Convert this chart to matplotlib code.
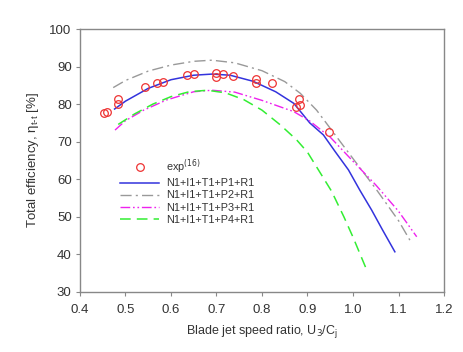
import matplotlib
matplotlib.use("Agg")
import matplotlib.pyplot as plt

plt.rcParams['font.family'] = ['Liberation Sans', 'DejaVu Sans']

# experimental points
exp_x = [0.4535, 0.4586, 0.484, 0.484, 0.5429, 0.570, 0.5817, 0.6344, 0.6505, 0.698,
         0.699, 0.715, 0.7355, 0.7868, 0.7868, 0.8212, 0.874, 0.882, 0.8835, 0.948]
exp_y = [77.55, 77.9, 81.37, 79.95, 84.47, 85.54, 85.89, 87.67, 87.93, 88.29,
         87.22, 88.02, 87.49, 86.69, 85.54, 85.63, 79.33, 81.28, 79.86, 72.67]

# N1+I1+T1+P1+R1
p1_x = [0.476, 0.5, 0.55, 0.6, 0.65, 0.69, 0.73, 0.78, 0.83, 0.87, 0.905, 0.935,
        0.96, 0.99, 1.015, 1.041, 1.065, 1.092]
p1_y = [78.7, 80.8, 84.2, 86.5, 87.7, 88.0, 87.7, 86.1, 83.3, 80.2, 75.0, 71.8,
        67.5, 62.5, 57.1, 51.8, 46.5, 40.7]

# N1+I1+T1+P2+R1
p2_x = [0.473, 0.5, 0.55, 0.6, 0.65, 0.69, 0.74, 0.8, 0.85, 0.884, 0.92, 0.964,
        1.0, 1.05, 1.1, 1.125]
p2_y = [84.4, 86.3, 88.8, 90.4, 91.4, 91.7, 91.0, 88.9, 86.0, 82.9, 78.4, 71.3,
        65.5, 57.5, 49.0, 43.8]

# N1+I1+T1+P3+R1
p3_x = [0.477, 0.5, 0.54, 0.59, 0.65, 0.69, 0.74, 0.8, 0.87, 0.905, 0.95, 1.0,
        1.05, 1.1, 1.14]
p3_y = [73.1, 75.6, 78.4, 81.1, 83.3, 83.7, 83.2, 81.0, 78.0, 75.5, 71.2, 64.8,
        58.5, 51.5, 44.7]

# N1+I1+T1+P4+R1
p4_x = [0.484, 0.52, 0.56, 0.6, 0.64, 0.68, 0.72, 0.76, 0.8, 0.84, 0.876, 0.9,
        0.924, 0.953, 0.98, 1.0, 1.03]
p4_y = [74.6, 77.4, 80.0, 82.0, 83.3, 83.7, 83.0, 81.2, 78.4, 74.5, 70.5, 67.2,
        62.5, 56.8, 50.0, 44.6, 35.9]

fig = plt.figure(figsize=(4.64, 3.52), dpi=100)
ax = fig.add_axes([0.1724, 0.1705, 0.7845, 0.7471])

ax.plot(exp_x, exp_y, 'o', mfc='none', mec='#ee3333', ms=5.5, mew=0.9, ls='none',
        label='exp$^{(16)}$', zorder=5)
ax.plot(p1_x, p1_y, color='#3333dd', lw=1.1, label='N1+I1+T1+P1+R1')
ax.plot(p2_x, p2_y, color='#999999', lw=1.0, dashes=(8, 3, 1.5, 3), label='N1+I1+T1+P2+R1')
ax.plot(p3_x, p3_y, color='#ee22ee', lw=1.0, dashes=(7, 2, 1.2, 2, 1.2, 2), label='N1+I1+T1+P3+R1')
ax.plot(p4_x, p4_y, color='#33ee33', lw=1.1, dashes=(7, 4), label='N1+I1+T1+P4+R1')

ax.set_xlim(0.4, 1.2)
ax.set_ylim(30, 100)
ax.set_xticks([0.4, 0.5, 0.6, 0.7, 0.8, 0.9, 1.0, 1.1, 1.2])
ax.set_xticklabels(['0.4', '0.5', '0.6', '0.7', '0.8', '0.9', '1.0', '1.1', '1.2'])
ax.set_yticks(range(30, 101, 10))

for s in ax.spines.values():
    s.set_color('#888888')
    s.set_linewidth(1.0)
ax.tick_params(direction='out', length=3, width=0.8, color='#888888',
               labelsize=9.5, labelcolor='#333333')
ax.tick_params(axis='x', pad=6)
ax.tick_params(axis='y', pad=3)

ax.set_xlabel('Blade jet speed ratio, U$_3$/C$_\\mathregular{j}$', fontsize=9,
              color='#333333', labelpad=5)
ax.set_ylabel('Total efficiency, $\\mathregular{\\eta_{t\\text{-}t}}$ [%]', fontsize=9.5,
              color='#333333', labelpad=6)

leg = ax.legend(loc='upper left', bbox_to_anchor=(0.09, 0.54), frameon=False,
                fontsize=7.8, handlelength=3.6, handletextpad=0.6, labelspacing=0.2,
                borderpad=0.2)
for t in leg.get_texts():
    t.set_color('#333333')

fig.savefig('out.png', dpi=100)
